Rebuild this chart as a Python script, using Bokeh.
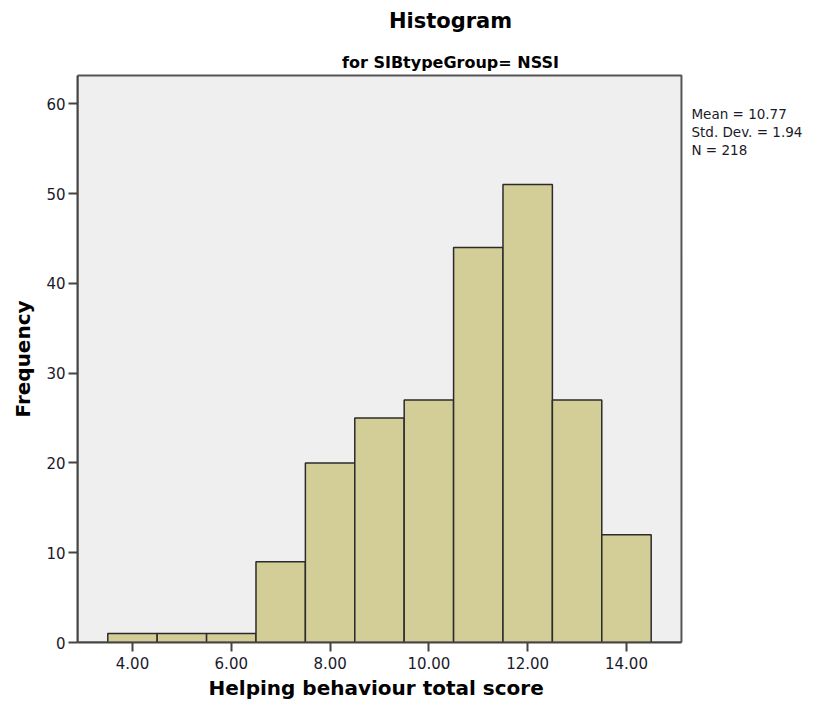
from bokeh.plotting import figure
from bokeh.models import Range1d, FixedTicker, NumeralTickFormatter, Label, Title
from bokeh.embed import file_html
from bokeh.resources import INLINE

# Data
scores = [4, 5, 6, 7, 8, 9, 10, 11, 12, 13, 14]
frequency = [1, 1, 1, 9, 20, 25, 27, 44, 51, 27, 12]
x_ticks = [4, 6, 8, 10, 12, 14]
y_ticks = [0, 10, 20, 30, 40, 50, 60]
title_text = "Histogram"
subtitle_text = "for SIBtypeGroup= NSSI"
x_label = "Helping behaviour total score"
y_label = "Frequency"
stats_text = "Mean = 10.77\nStd. Dev. = 1.94\nN = 218"

# axis extents of the chart panel (data units)
X_MIN, X_MAX = 2.887, 15.113
Y_MAX = 63.15

FONT = "DejaVu Sans"
W, H = 812, 706
LEFT, TOP, BOTTOM = 77, 5, 64
PX_X = 49.4   # px per x unit
PX_Y = 8.978  # px per y unit

p = figure(width=W, height=H, output_backend="svg", toolbar_location=None,
           x_range=Range1d(X_MIN, X_MIN + (W - LEFT) / PX_X),
           y_range=Range1d(0, (H - TOP - BOTTOM) / PX_Y),
           min_border_left=LEFT, min_border_right=0, min_border_top=TOP,
           min_border_bottom=BOTTOM)

p.background_fill_color = "#ffffff"
p.border_fill_color = "#ffffff"
p.outline_line_color = None
p.grid.visible = False

# grey chart panel with its frame
p.quad(left=[X_MIN], right=[X_MAX], bottom=[0], top=[Y_MAX],
       fill_color="#EFEFEF", line_color="#555555", line_width=2)

p.quad(left=[s - 0.5 for s in scores], right=[s + 0.5 for s in scores],
       bottom=0, top=frequency, fill_color="#D3CE98", line_color="#2b2b2b", line_width=1.5)

p.xaxis.ticker = FixedTicker(ticks=x_ticks)
p.xaxis.formatter = NumeralTickFormatter(format="0.00")
p.yaxis.ticker = FixedTicker(ticks=y_ticks)
p.xaxis.bounds = (X_MIN, X_MAX)
p.yaxis.bounds = (0, Y_MAX)

for ax in (p.xaxis, p.yaxis):
    ax.axis_line_color = "#444444"
    ax.axis_line_width = 2
    ax.major_tick_line_color = "#444444"
    ax.major_tick_line_width = 2
    ax.major_tick_out = 9
    ax.major_tick_in = 0
    ax.minor_tick_line_color = None
    ax.major_label_text_font = FONT
    ax.major_label_text_font_size = "15px"
    ax.major_label_text_color = "#1a1a2a"

p.xaxis.major_label_standoff = 5
p.yaxis.major_label_standoff = 3

# axis titles, centred on the chart panel (not on the whole frame)
p.add_layout(Title(text=x_label, align="left", offset=131, standoff=7,
                   vertical_align="middle",
                   text_font=FONT, text_font_style="bold", text_font_size="20px",
                   text_color="#000000"), "below")
p.add_layout(Title(text=y_label, align="left", offset=225, standoff=15,
                   vertical_align="middle",
                   text_font=FONT, text_font_style="bold", text_font_size="20px",
                   text_color="#000000"), "left")

title_x = (X_MIN + X_MAX) / 2 + 71 / PX_X
p.add_layout(Label(x=title_x, y=Y_MAX + 55 / PX_Y, text=title_text,
                   text_align="center", text_baseline="alphabetic",
                   text_font=FONT, text_font_style="bold", text_font_size="21px",
                   text_color="#000000"))
p.add_layout(Label(x=title_x, y=Y_MAX + 13 / PX_Y, text=subtitle_text,
                   text_align="center", text_baseline="alphabetic",
                   text_font=FONT, text_font_style="bold", text_font_size="16px",
                   text_color="#000000"))
p.add_layout(Label(x=X_MAX + 10 / PX_X, y=Y_MAX - 30 / PX_Y, text=stats_text,
                   text_align="left", text_baseline="top",
                   text_font=FONT, text_font_size="13.5px", text_color="#1a1a2a",
                   text_line_height=1.15))

open("out.html", "w").write(file_html(p, INLINE))
